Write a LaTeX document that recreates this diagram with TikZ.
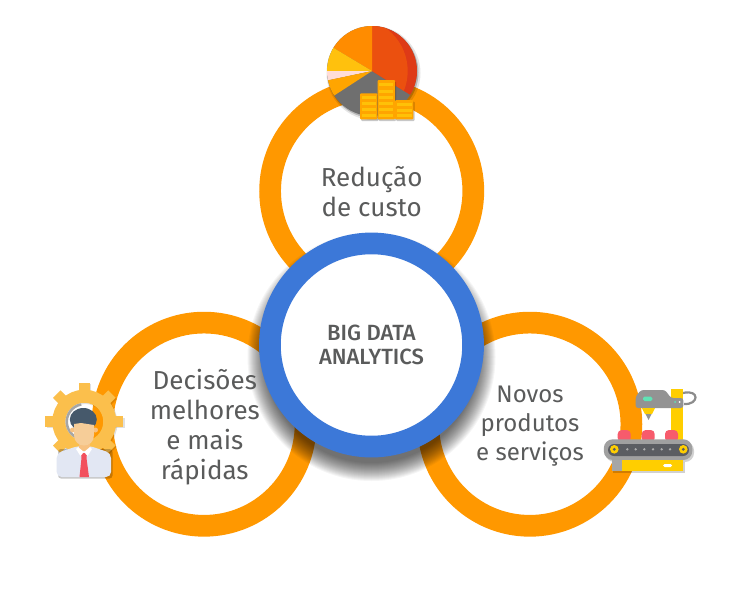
\documentclass[tikz,border=0pt]{standalone}
\usepackage{fontspec}
\setmainfont{Fira Sans}
\newfontfamily\hubfont{Fira Sans Medium}
\usetikzlibrary{calc}
\definecolor{ringor}{HTML}{FF9800}
\definecolor{ringbl}{HTML}{3C78D8}
\definecolor{txt}{HTML}{5A5B5B}
\definecolor{pieA}{HTML}{EB500F}
\definecolor{pieB}{HTML}{DE3A17}
\definecolor{pieC}{HTML}{FF8C00}
\definecolor{pieD}{HTML}{FFC10D}
\definecolor{pieE}{HTML}{FFDDD8}
\definecolor{pieF}{HTML}{FFA500}
\definecolor{pieG}{HTML}{6F6F6F}
\definecolor{coinA}{HTML}{FFA500}
\definecolor{coinB}{HTML}{FFC107}
\definecolor{gearc}{HTML}{FBBF4C}
\definecolor{hair}{HTML}{46596B}
\definecolor{skin}{HTML}{F6CD98}
\definecolor{shirt}{HTML}{E2E7F3}
\definecolor{tie}{HTML}{F2505D}
\definecolor{beltg}{HTML}{A0A0A0}
\definecolor{beltd}{HTML}{5B5D62}
\definecolor{yel}{HTML}{FFCE00}
\definecolor{redit}{HTML}{F75B6C}
\definecolor{mint}{HTML}{5FE3B5}
\tikzset{
  x=1pt,y=-1pt,
  ring/.style={draw=ringor,line width=21.7pt,fill=white,circle,minimum size=203.2pt,inner sep=0pt},
  hub/.style={draw=ringbl,line width=21.7pt,fill=white,circle,minimum size=203.2pt,inner sep=0pt},
  lab/.style={text=txt,font=\fontsize{26}{30}\selectfont,align=center,inner sep=0pt},
  hublab/.style={text=txt,font=\fontsize{22}{24}\hubfont,align=center,inner sep=0pt},
  soft/.style={fill=black,fill opacity=0.04},
}
\begin{document}
\begin{tikzpicture}
\useasboundingbox (0,0) rectangle (736,597);
\fill[white] (0,0) rectangle (736,597);
% orange rings
\node[ring] (top) at (371.7,191) {};
\node[ring] (left) at (204,424.2) {};
\node[ring] (right) at (529.8,424.2) {};
% hub shadow
\foreach \r in {124,123,...,106}{\fill[soft] (371.5,357) circle (\r);}
% hub
\node[hub] (hub) at (371.5,345) {};
% labels
\node[lab] (t1) at (371.7,192) {Redução\\de custo};
\node[lab] (t2) at (204.8,427.5) {Decisões\\melhores\\e mais\\rápidas};
\node[lab,font=\fontsize{24}{29}\selectfont] (t3) at (530,426) {Novos\\produtos\\e serviços};
\node[hublab] (t4) at (371.5,345) {BIG DATA\\ANALYTICS};
% --- pie icon
\fill[black,opacity=.1] (373.5,73) circle (47);
\fill[black,opacity=.2] (373,72.5) circle (45.5);
\begin{scope}
\clip (372,71) circle (45);
\fill[pieG] (320,20) rectangle (430,130);
\fill[pieB] (372,71) -- (372,20) -- (430,20) -- (430,107.2) -- cycle;
\begin{scope}
\clip (354.8,71) circle (52.9);
\fill[pieA] (372,71) -- (372,20) -- (430,20) -- (430,107.2) -- cycle;
\end{scope}
\fill[pieC] (372,71) -- (372,20) -- (320,20) -- (320,39.8) -- cycle;
\fill[pieD] (372,71) -- (320,39.8) -- (320,71) -- cycle;
\fill[pieE] (372,71) -- (320,71) -- (320,82) -- cycle;
\fill[pieF] (372,71) -- (320,82) -- (320,105) -- (335,95) -- cycle;
\end{scope}
% coins
\foreach \cx/\cw/\ct in {360/17.3/93.3,377.7/17.3/80,395/18.3/100}{
  \fill[black,opacity=.22,rounded corners=1pt] (\cx+1,\ct+1.5) rectangle (\cx+\cw+1.2,121);
}
\foreach \cx/\cw/\ct in {360/17.3/93.3,377.7/17.3/80,395/18.3/100}{
  \fill[coinA,rounded corners=1pt] (\cx,\ct) rectangle (\cx+\cw,119.3);
}
\foreach \cx/\cw/\yy in {
 361.7/14/96,361.7/14/102,361.7/14/108,361.7/14/114,
 379.4/14/83,379.4/14/89.5,379.4/14/96,379.4/14/102,379.4/14/108,379.4/14/114,
 396.8/14.7/103,396.8/14.7/108.5,396.8/14.7/114}{
  \fill[coinB] (\cx,\yy) rectangle (\cx+\cw,\yy+3.2);
}
% --- person and gear icon
\foreach \a in {0,45,...,315}{
  \draw[black,opacity=.12,line width=10.5pt] ($(85.5,423)+(\a:28)$) -- ($(85.5,423)+(\a:39)$);
}
\draw[black,opacity=.12,line width=13pt] (85.5,423) circle (25.5);
\foreach \a in {0,45,...,315}{
  \draw[gearc,line width=10.5pt] ($(84.3,421.7)+(\a:28)$) -- ($(84.3,421.7)+(\a:39)$);
}
\draw[gearc,line width=13pt] (84.3,421.7) circle (25.5);
\draw[black!35,line width=2.5pt] (84.3,421.7) ++(80:-17.5) arc[start angle=260,end angle=90,radius=17.5];
\fill[black,opacity=.22,rounded corners=3pt] (58,449) rectangle (112.5,478.5);
\fill[hair] (83.3,419.5) ellipse [x radius=13.5,y radius=11.5];
\fill[shirt,rounded corners=5pt] (56.7,477) -- (56.7,453) -- (78,446) -- (90,446) -- (111,453) -- (111,477) -- cycle;
\fill[skin!85!orange] (78.5,438) rectangle (89.5,451);
\fill[skin!85!orange] (72.5,430) circle (2.5);
\fill[skin!85!orange] (95.5,430) circle (2.5);
\fill[skin] (74,424) -- (81,423) -- (94,425) -- (94,435) .. controls (94,442) and (89,445.5) .. (84,445.5) .. controls (79,445.5) and (74,442) .. (74,435) -- cycle;
\fill[tie] (81,453) -- (87,453) -- (86.5,458) -- (89,477) -- (79.5,477) -- (81.5,458) -- cycle;
\fill[white] (78,447) -- (84,452) -- (80.5,456) -- (76,449) -- cycle;
\fill[white] (90,447) -- (84,452) -- (87.5,456) -- (92,449) -- cycle;
% --- conveyor icon
\fill[black,opacity=.18,rounded corners=9pt] (605.5,441.5) rectangle (694,462);
\fill[black,opacity=.18] (613,462) rectangle (685,472.5);
\draw[gray!90,line width=2.2pt] (683,393) .. controls (700,389) and (699,405) .. (684,404);
\fill[yel] (671,389.3) rectangle (683.3,440);
\fill[gray!85,rounded corners=2.5pt] (635.7,408) -- (635.7,396.5) -- (641,390) -- (665,390) -- (671,398) -- (683.3,398) -- (683.3,408) -- cycle;
\fill[mint,rounded corners=1.5pt] (643,396.7) rectangle (652.3,401);
\fill[mint] (675,402) circle (1);
\fill[white] (679.7,402) circle (1);
\fill[yel] (641.7,408) -- (655,408) -- (652,414) -- (645,414) -- cycle;
\fill[gray!85] (645.5,414) -- (651.5,414) -- (648.5,420) -- cycle;
\foreach \rx in {617.7,641.7,665}{
  \fill[redit,rounded corners=4pt] (\rx,442) -- (\rx,430) -- (\rx+13,430) -- (\rx+13,442) -- cycle;
}
\fill[beltg,rounded corners=9pt] (603.8,439.3) rectangle (692.3,460);
\fill[beltd,rounded corners=6pt] (608,444) rectangle (689,456);
\fill[yel] (621.7,460) rectangle (683.3,470.7);
\fill[gray!70] (611.7,460) rectangle (621.7,470.7);
\fill[white,rounded corners=1.5pt] (663,464) rectangle (672,467);
\foreach \rx in {614.3,683.3}{
  \fill[yel] (\rx,449.3) circle (4.3);
  \fill[beltd] (\rx,449.3) circle (1.6);
}
\foreach \rx in {627.3,635.7,644.3,653,661.7,670}{
  \fill[gray!65] (\rx,449.3) circle (1.3);
}
\end{tikzpicture}
\end{document}
